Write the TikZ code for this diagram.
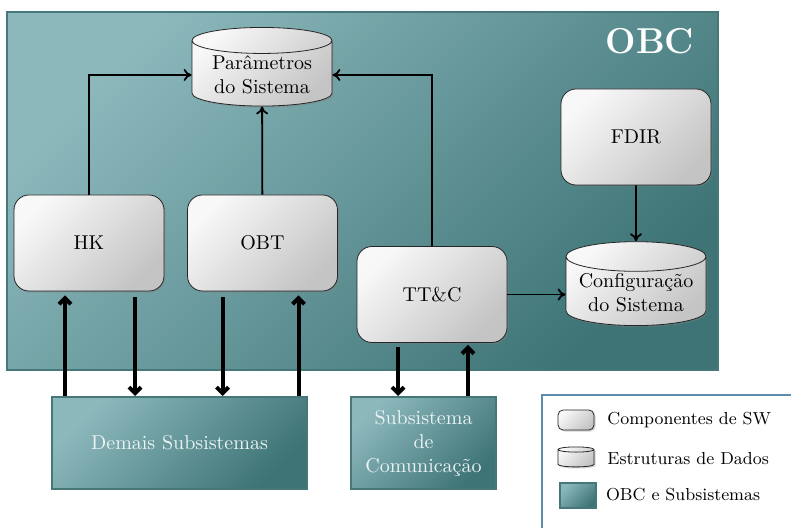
\documentclass[tikz,border=0pt]{standalone}
\usepackage{tikz}
\usetikzlibrary{arrows.meta, positioning, shapes.geometric, shadows, calc}
\definecolor{obcLight}{RGB}{140,184,188}
\definecolor{obcDark}{RGB}{62,116,118}
\definecolor{obcEdge}{RGB}{70,120,122}
\definecolor{swLight}{RGB}{248,248,248}
\definecolor{swDark}{RGB}{196,196,196}
\definecolor{legEdge}{RGB}{92,140,172}
\definecolor{subText}{RGB}{236,243,243}

\begin{document}
\begin{tikzpicture}[
    x=0.5pt, y=-0.5pt,
    sw/.style={draw=black!85, rounded corners=7.5pt, minimum width=75pt, minimum height=48pt,
               top color=swLight, bottom color=swDark, shading angle=45,
               drop shadow={opacity=0.35, shadow xshift=0.8pt, shadow yshift=-0.8pt}},
    db/.style={cylinder, shape border rotate=90, aspect=0.25, draw=black!85, align=center,
               minimum width=70pt, minimum height=35pt, inner sep=1pt,
               top color=swLight, bottom color=swDark, shading angle=45,
               drop shadow={opacity=0.35, shadow xshift=0.8pt, shadow yshift=-0.8pt}},
    sub/.style={draw=obcEdge, line width=1pt, top color=obcLight, bottom color=obcDark,
                shading angle=45, text=subText, align=center},
    arr/.style={-{To[length=4pt,width=6pt]}, line width=0.9pt},
    thk/.style={-{Straight Barb[length=3pt,width=6pt]}, line width=2pt},
    lbl/.style={font=\fontsize{8.7}{10}\selectfont, right=3pt of #1},
]
\useasboundingbox (0,0) rectangle (791,528);

% OBC block
\node[sub, line width=0.6pt, minimum width=355.5pt, minimum height=179pt] (obc) at (362.5,191) {};
\node[font=\fontsize{18}{20}\selectfont\bfseries, text=white] (obclbl) at (650,41) {OBC};

% Software components
\node[sw] (hk)   at (89,243)    {HK};
\node[sw] (obt)  at (262.5,243) {OBT};
\node[sw] (ttc)  at (432,294.5) {TT\&C};
\node[sw] (fdir) at (636,137)   {FDIR};

% Data structures
\node[db] (par) at (262,75)  {Parâmetros\\do Sistema};
\node[db] (cfg) at (636,293) {Configuração\\do Sistema};

% Subsystems
\node[sub, minimum width=127.5pt, minimum height=46pt] (dem) at (179.5,443) {Demais Subsistemas};
\node[sub, minimum width=72.5pt, minimum height=46pt, inner sep=1pt] (com) at (423.5,443) {Subsistema\\de\\Comunicação};

% Internal arrows
\draw[arr] (hk.north) |- (par.west);
\draw[arr] (obt) -- (par);
\draw[arr] (ttc.north) |- (par.east);
\draw[arr] (fdir) -- (cfg);
\draw[arr] (ttc.east) -- (ttc.east -| cfg.west);

% Bus arrows
\draw[thk] ([xshift=-12pt]hk.south |- dem.north) -- ([xshift=-12pt,yshift=-2pt]hk.south);
\draw[thk] ([xshift=23pt,yshift=-3pt]hk.south) -- ([xshift=23pt]hk.south |- dem.north);
\draw[thk] ([xshift=-20pt,yshift=-3pt]obt.south) -- ([xshift=-20pt]obt.south |- dem.north);
\draw[thk] ([xshift=18pt]obt.south |- dem.north) -- ([xshift=18pt,yshift=-2pt]obt.south);
\draw[thk] ([xshift=-17pt,yshift=-2pt]ttc.south) -- ([xshift=-17pt]ttc.south |- com.north);
\draw[thk] ([xshift=18pt]ttc.south |- com.north) -- ([xshift=18pt,yshift=-1pt]ttc.south);

% Legend
\draw[legEdge, line width=0.8pt] (542,395) rectangle (800,540);
\node[sw, rounded corners=2.5pt, minimum width=18pt, minimum height=10pt] (lsw) at (576,420) {};
\node[db, aspect=1.3, minimum width=18pt, minimum height=10pt] (ldb) at (576,459) {};
\node[sub, minimum width=18pt, minimum height=12.5pt] (lobc) at (578,495) {};
\node[lbl=lsw]  (tsw)  {Componentes de SW};
\node[lbl=ldb]  (tdb)  {Estruturas de Dados};
\node[lbl=lobc, right=1pt of lobc] (tobc) {OBC e Subsistemas};
\end{tikzpicture}
\end{document}
